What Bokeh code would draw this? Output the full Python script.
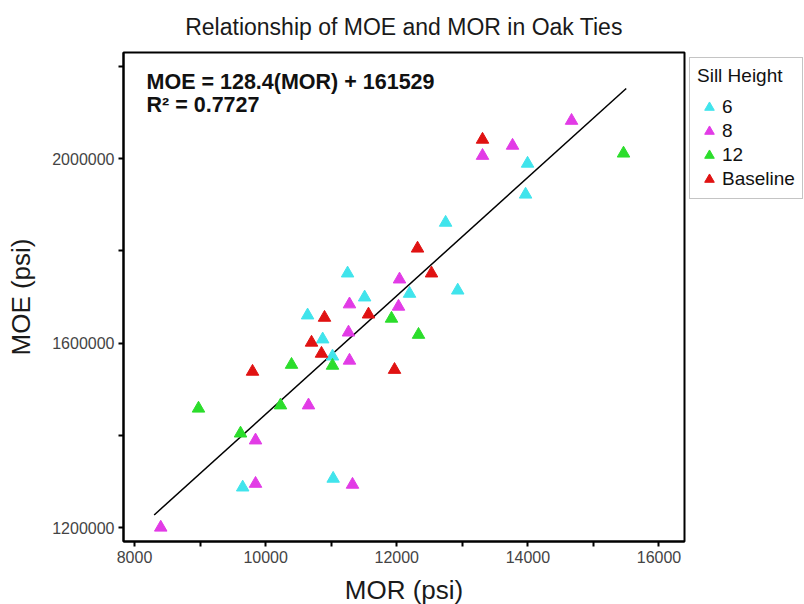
from bokeh.plotting import figure
from bokeh.models import Range1d, FixedTicker, Legend, LegendItem, Label, NumeralTickFormatter
from bokeh.embed import file_html
from bokeh.resources import INLINE

# ---- data ----
mor_6 = [9650, 11030, 10640, 11250, 11510, 10870, 11020, 12195, 12745, 12930, 13995, 13965]
moe_6 = [1287000, 1306000, 1660000, 1751000, 1699000, 1608000, 1571000, 1707000, 1861000, 1714000, 1989000, 1922000]

mor_8 = [8400, 9846, 9846, 10654, 11325, 11279, 11264, 11279, 12042, 12027, 13308, 13766, 14666]
moe_8 = [1200000, 1295000, 1389000, 1465000, 1293000, 1562000, 1623000, 1684000, 1738000, 1679000, 2006000, 2028000, 2082000]

mor_12 = [8976, 9617, 10227, 10395, 11020, 11920, 12332, 15459]
moe_12 = [1458000, 1404000, 1465000, 1553000, 1551000, 1653000, 1618000, 2011000]

mor_base = [9800, 10700, 10898, 10852, 11569, 11966, 12317, 12530, 13308]
moe_base = [1538000, 1601000, 1655000, 1577000, 1662000, 1542000, 1805000, 1751000, 2041000]

slope = 128.4
intercept = 161529
fit_mor = [8300, 15500]
fit_moe = [slope * v + intercept for v in fit_mor]

x_ticks = [8000, 10000, 12000, 14000, 16000]
x_minor = [9000, 11000, 13000, 15000]
y_ticks = [1200000, 1600000, 2000000]
y_minor = [1400000, 1800000, 2200000]

series_names = ["6", "8", "12", "Baseline"]
series_colors = ["#40e4ec", "#e23be6", "#2bdd2b", "#e01212"]

FONT = "Liberation Sans"

ML, MR, MT, MB = 123, 118, 52, 62
FW, FH = 561, 489

p = figure(frame_width=FW, frame_height=FH,
           x_range=Range1d(7832, 16389), y_range=Range1d(1169650, 2229810),
           output_backend="svg", toolbar_location=None,
           min_border_left=ML, min_border_right=MR, min_border_top=MT, min_border_bottom=MB)

p.title.text = "Relationship of MOE and MOR in Oak Ties"
p.title.text_font = FONT
p.title.text_font_size = "23px"
p.title.text_font_style = "normal"
p.title.text_color = "#1a1a1a"
p.title.align = "center"
p.title.vertical_align = "top"
p.title.standoff = 22

p.xgrid.visible = False
p.ygrid.visible = False
p.outline_line_color = "black"
p.outline_line_width = 2
p.background_fill_color = "white"
p.border_fill_color = "white"

p.xaxis.ticker = FixedTicker(ticks=x_ticks, minor_ticks=x_minor)
p.yaxis.ticker = FixedTicker(ticks=y_ticks, minor_ticks=y_minor)
p.yaxis.formatter = NumeralTickFormatter(format="0")
p.xaxis.formatter = NumeralTickFormatter(format="0")
p.xaxis.axis_label = "MOR (psi)"
p.yaxis.axis_label = "MOE (psi)"
for ax in (p.xaxis, p.yaxis):
    ax.axis_line_color = "black"
    ax.axis_line_width = 2
    ax.major_tick_line_color = "black"
    ax.minor_tick_line_color = "black"
    ax.major_tick_line_width = 2
    ax.minor_tick_line_width = 2
    ax.major_tick_in = 0
    ax.major_tick_out = 5
    ax.minor_tick_in = 0
    ax.minor_tick_out = 5
    ax.major_label_text_font = FONT
    ax.major_label_text_font_size = "16px"
    ax.major_label_text_color = "#444444"
    ax.axis_label_text_font = FONT
    ax.axis_label_text_font_size = "26px"
    ax.axis_label_text_font_style = "normal"
    ax.axis_label_text_color = "#1a1a1a"
p.xaxis.major_label_standoff = 4
p.xaxis.axis_label_standoff = 9
p.yaxis.major_label_standoff = 4
p.yaxis.axis_label_standoff = 13

p.line(fit_mor, fit_moe, line_color="black", line_width=1.5)

data = [(mor_6, moe_6), (mor_8, moe_8), (mor_12, moe_12), (mor_base, moe_base)]
items = []
for (xs, ys), name, col in zip(data, series_names, series_colors):
    r = p.scatter(xs, ys, marker="triangle", size=12.5, fill_color=col, line_color=col, line_width=1)
    items.append(LegendItem(label=name, renderers=[r]))

legend = Legend(items=items, location="top_left", title="Sill Height",
                margin=5, padding=7, spacing=0, label_height=24, glyph_height=24,
                glyph_width=24, label_standoff=1, title_standoff=8,
                border_line_color="#8a8a8a", border_line_width=1.5,
                label_text_font=FONT, label_text_font_size="19px", label_text_color="#111111",
                title_text_font=FONT, title_text_font_size="19px", title_text_font_style="normal",
                title_text_color="#111111", background_fill_color="white")
p.add_layout(legend, "right")

p.add_layout(Label(x=8183, y=2190800, text="MOE = 128.4(MOR) + 161529", text_font=FONT,
                   text_font_size="21.5px", text_font_style="bold", text_baseline="top",
                   text_align="left", text_color="#111111"))
p.add_layout(Label(x=8183, y=2141000, text="R\u00b2 = 0.7727", text_font=FONT,
                   text_font_size="21.5px", text_font_style="bold", text_baseline="top",
                   text_align="left", text_color="#111111"))

open("out.html", "w").write(file_html(p, INLINE))
